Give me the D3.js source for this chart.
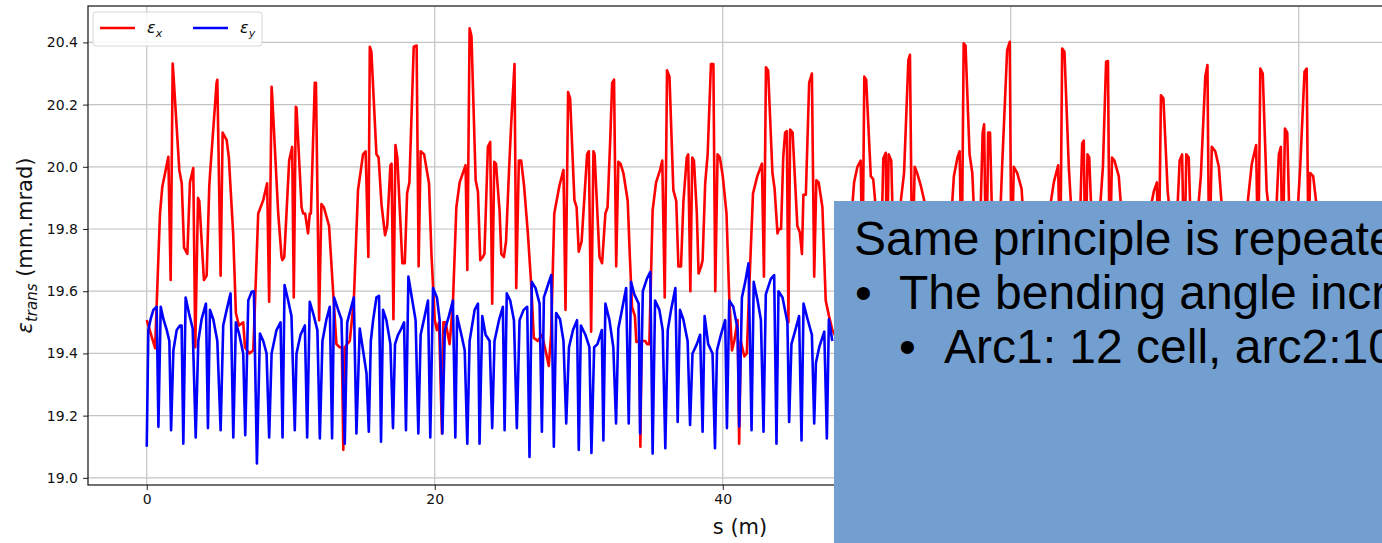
<!DOCTYPE html>
<html>
<head>
<meta charset="utf-8">
<script src="https://cdn.jsdelivr.net/npm/d3@7/dist/d3.min.js"></script>
<style>
  body { margin: 0; background: #fff; }
  svg { display: block; }
</style>
</head>
<body>
<div id="chart"></div>
<script>
/////////////////////////////////////////////////////////////////////////////
//// Data ////////////////////////////////////////////
/////////////////////////////////////////////////////////////////////////////

// epsilon_x : position s (m) and emittance (mm.mrad)
const sX = [
  0, 0.58, 0.92, 1.08, 1.5, 1.66, 1.8, 1.85, 2.26, 2.43, 2.59, 2.82, 3.0, 3.23, 3.37, 3.56, 3.65, 3.97, 4.16, 4.34,
  4.4, 4.85, 4.9, 5.13, 5.27, 5.55, 5.7, 6.0, 6.19, 6.4, 6.7, 6.82, 7.12, 7.4, 7.74, 8.09, 8.36, 8.5, 8.67, 8.72,
  9.13, 9.36, 9.42, 9.55, 9.89, 10.1, 10.21, 10.35, 10.4, 10.75, 10.86, 11.0, 11.2, 11.32, 11.4, 11.67, 11.75, 11.97, 12.13, 12.3,
  12.66, 12.94, 13.17, 13.4, 13.55, 13.65, 13.75, 14.1, 14.38, 14.67, 15.02, 15.2, 15.39, 15.49, 15.6, 15.95, 16.1, 16.3, 16.55, 16.7,
  16.92, 17.0, 17.13, 17.27, 17.4, 17.75, 17.92, 18.08, 18.24, 18.54, 18.74, 18.88, 19.02, 19.26, 19.6, 19.77, 20.0, 20.15, 20.3, 20.5,
  20.6, 20.75, 21.03, 21.26, 21.5, 21.73, 22.14, 22.26, 22.42, 22.55, 22.84, 23.0, 23.16, 23.34, 23.45, 23.69, 23.85, 23.99, 24.13, 24.25,
  24.5, 24.62, 24.8, 24.95, 25.15, 25.3, 25.54, 25.66, 25.84, 26.0, 26.2, 26.46, 26.7, 26.88, 27.15, 27.45, 27.74, 27.92, 28.08, 28.3,
  28.66, 28.94, 29.08, 29.26, 29.4, 29.7, 29.85, 30.0, 30.2, 30.58, 30.7, 30.86, 31.02, 31.1, 31.44, 31.62, 31.85, 32.0, 32.18, 32.32,
  32.45, 32.6, 32.75, 32.9, 33.1, 33.4, 33.55, 33.7, 33.9, 34.0, 34.2, 34.28, 34.36, 34.62, 34.75, 34.9, 35.13, 35.37, 35.65, 35.8,
  35.97, 36.13, 36.3, 36.57, 36.77, 36.92, 37.1, 37.27, 37.5, 37.6, 37.75, 37.88, 38.0, 38.2, 38.32, 38.5, 38.6, 38.78, 38.95, 39.18,
  39.35, 39.48, 39.64, 39.8, 40.0, 40.26, 40.45, 40.64, 40.8, 41.03, 41.14, 41.25, 41.5, 41.67, 41.83, 42.1, 42.4, 42.72, 42.86, 43.0,
  43.15, 43.45, 43.6, 43.8, 43.9, 44.05, 44.2, 44.33, 44.45, 44.56, 44.68, 44.85, 45.18, 45.35, 45.5, 45.6, 45.77, 46.0, 46.19, 46.35,
  46.5, 46.66, 46.92, 47.15, 47.38, 47.61, 48.0, 48.5, 48.96, 49.12, 49.35, 49.58, 49.7, 49.83, 49.96, 50.28, 50.45, 50.6, 50.8, 51.0,
  51.15, 51.32, 51.4, 51.52, 51.7, 51.85, 52.1, 52.36, 52.59, 52.89, 53.0, 53.16, 53.33, 53.5, 53.75, 54.2, 54.5, 55.0, 55.5, 55.82,
  56.05, 56.3, 56.45, 56.59, 56.73, 56.86, 57.14, 57.33, 57.5, 57.7, 57.9, 58.05, 58.15, 58.3, 58.43, 58.56, 58.72, 59.0, 59.3, 59.4,
  59.75, 59.93, 60.05, 60.21, 60.45, 60.75, 60.86, 61.3, 61.8, 62.3, 62.76, 62.99, 63.29, 63.43, 63.57, 63.73, 64.03, 64.22, 64.5, 64.84,
  64.96, 65.07, 65.19, 65.33, 65.45, 65.64, 65.9, 66.22, 66.4, 66.62, 66.75, 66.87, 67.03, 67.2, 67.5, 67.66, 68.0, 68.6, 69.2, 69.76,
  69.93, 70.15, 70.27, 70.43, 70.6, 70.9, 71.03, 71.3, 71.59, 71.73, 71.9, 72.05, 72.19, 72.36, 72.5, 72.8, 73.04, 73.2, 73.51, 73.66,
  73.78, 73.96, 74.2, 74.45, 74.66, 75.0, 75.6, 76.1, 76.44, 76.74, 77.04, 77.18, 77.33, 77.5, 77.77, 77.93, 78.2, 78.46, 78.62, 78.76,
  78.87, 79.04, 79.2, 79.37, 79.7, 79.95, 80.1, 80.4, 80.55, 80.68, 80.79, 81.0, 81.25, 81.6
];
const epsX = [
  19.507, 19.417, 19.85, 19.936, 20.032, 19.636, 20.332, 20.3, 19.99, 19.947, 19.74, 19.72, 19.95, 19.996, 19.42, 19.9, 19.89, 19.636, 19.65, 19.936,
  19.98, 20.27, 20.28, 19.65, 20.11, 20.086, 20.03, 19.786, 19.53, 19.49, 19.5, 19.42, 19.4, 19.41, 19.85, 19.893, 19.947, 19.566, 20.257, 20.22,
  19.85, 19.71, 19.7, 19.71, 20.02, 20.064, 19.58, 20.193, 20.19, 19.87, 19.85, 19.85, 19.786, 19.85, 19.85, 20.27, 20.27, 19.507, 19.88, 19.87,
  19.81, 19.6, 19.43, 19.42, 19.42, 19.09, 19.42, 19.44, 19.57, 19.925, 20.04, 20.05, 19.71, 20.386, 20.37, 20.04, 20.03, 19.88, 19.78, 19.81,
  20.005, 20.01, 19.51, 20.07, 20.03, 19.69, 19.69, 19.915, 19.95, 20.386, 20.39, 19.68, 20.05, 20.04, 19.947, 19.72, 19.507, 19.475, 19.5, 19.143,
  19.5, 19.5, 19.43, 19.56, 19.87, 19.95, 20.005, 19.668, 20.445, 20.42, 19.957, 19.92, 19.7, 19.71, 19.72, 20.064, 20.08, 19.56, 20.016, 20.01,
  19.86, 19.72, 19.71, 19.76, 19.98, 20.13, 20.33, 19.61, 20.02, 20.02, 19.94, 19.79, 19.62, 19.45, 19.44, 19.46, 19.4, 19.36, 19.46, 19.85,
  19.94, 19.99, 19.54, 20.24, 20.22, 19.893, 19.87, 19.727, 19.76, 20.04, 20.05, 19.47, 20.05, 20.04, 19.71, 19.69, 19.85, 19.87, 20.08, 20.27,
  20.28, 19.68, 20.016, 20.01, 19.98, 19.89, 19.71, 19.55, 19.52, 19.437, 19.44, 19.1, 19.44, 19.44, 19.43, 19.43, 19.86, 19.95, 19.99, 20.02,
  19.58, 20.31, 20.29, 19.925, 19.89, 19.68, 19.68, 19.89, 20.03, 20.04, 19.6, 20.03, 20.02, 19.85, 19.657, 19.68, 19.7, 19.947, 20.04, 20.33,
  20.33, 19.6, 20.04, 20.03, 19.97, 19.85, 19.58, 19.41, 19.44, 19.507, 19.11, 19.44, 19.39, 19.4, 19.6, 19.914, 19.97, 20.01, 19.647, 20.32,
  20.31, 19.98, 19.93, 19.786, 19.8, 19.8, 20.03, 20.11, 20.115, 19.5, 20.12, 20.11, 19.81, 19.79, 19.72, 19.91, 19.91, 20.27, 20.3, 19.647,
  19.957, 19.95, 19.87, 19.57, 19.52, 19.475, 19.44, 19.45, 19.85, 19.95, 20.0, 20.02, 19.65, 20.29, 20.28, 19.97, 19.96, 19.88, 19.7, 19.72,
  20.027, 20.045, 19.65, 20.04, 20.02, 19.75, 19.72, 19.888, 19.98, 20.343, 20.36, 19.65, 20.0, 19.98, 19.94, 19.85, 19.55, 19.44, 19.45, 19.8,
  19.97, 20.03, 20.05, 19.65, 20.397, 20.39, 20.04, 19.98, 19.8, 19.7, 19.85, 20.11, 20.137, 19.6, 20.11, 20.11, 19.8, 19.72, 19.88, 20.0,
  20.375, 20.402, 19.65, 20.0, 19.98, 19.93, 19.85, 19.5, 19.44, 19.45, 19.88, 19.95, 20.005, 19.65, 20.38, 20.37, 20.0, 19.85, 19.72, 19.88,
  20.075, 20.084, 19.65, 20.04, 20.03, 19.8, 19.72, 19.88, 20.0, 20.338, 20.34, 19.65, 20.03, 20.02, 19.97, 19.87, 19.55, 19.44, 19.45, 19.88,
  19.92, 19.95, 19.65, 20.23, 20.22, 19.92, 19.86, 19.72, 19.88, 20.02, 20.04, 19.65, 20.04, 20.03, 19.8, 19.72, 19.88, 19.97, 20.29, 20.327,
  19.65, 20.064, 20.05, 20.0, 19.87, 19.55, 19.44, 19.46, 19.88, 20.01, 20.07, 19.65, 20.316, 20.3, 19.925, 19.86, 19.72, 19.88, 20.04, 20.064,
  19.65, 20.123, 20.11, 19.8, 19.72, 19.88, 20.0, 20.306, 20.316, 19.7, 19.98, 19.97, 19.87, 19.6
];

// epsilon_y : only the part left of the slide text box could be read
const sY = [
  0, 0.11, 0.27, 0.46, 0.69, 0.81, 0.97, 1.16, 1.39, 1.57, 1.69, 1.85, 2.08, 2.31, 2.42, 2.54, 2.7, 2.93, 3.19, 3.4,
  3.58, 3.81, 4.11, 4.25, 4.39, 4.62, 4.9, 5.13, 5.31, 5.55, 5.82, 6.01, 6.19, 6.43, 6.7, 6.84, 7.05, 7.28, 7.44, 7.65,
  7.86, 8.09, 8.32, 8.5, 8.67, 9.01, 9.29, 9.43, 9.57, 9.82, 10.05, 10.28, 10.4, 10.68, 10.98, 11.14, 11.32, 11.55, 11.85, 12.02,
  12.2, 12.48, 12.71, 12.87, 13.01, 13.29, 13.52, 13.75, 13.92, 14.15, 14.38, 14.56, 14.79, 15.02, 15.26, 15.42, 15.56, 15.72, 15.95, 16.13,
  16.27, 16.41, 16.64, 16.92, 17.1, 17.24, 17.45, 17.68, 17.87, 18.0, 18.17, 18.37, 18.67, 18.86, 19.02, 19.3, 19.53, 19.69, 19.88, 20.15,
  20.34, 20.53, 20.7, 20.98, 21.26, 21.43, 21.55, 21.85, 22.08, 22.26, 22.42, 22.77, 23.0, 23.11, 23.3, 23.53, 23.81, 23.99, 24.15, 24.46,
  24.73, 24.85, 25.0, 25.24, 25.5, 25.7, 25.89, 26.17, 26.42, 26.58, 26.74, 27.0, 27.28, 27.44, 27.58, 27.86, 28.09, 28.27, 28.43, 28.7,
  28.94, 29.13, 29.32, 29.6, 29.88, 30.0, 30.15, 30.46, 30.74, 30.88, 31.07, 31.3, 31.6, 31.71, 31.85, 32.13, 32.4, 32.59, 32.75, 33.0,
  33.29, 33.47, 33.63, 33.86, 34.16, 34.26, 34.45, 34.73, 34.97, 35.13, 35.3, 35.6, 35.83, 36.01, 36.18, 36.41, 36.71, 36.87, 37.03, 37.26,
  37.56, 37.73, 37.9, 38.2, 38.43, 38.6, 38.74, 38.99, 39.29, 39.46, 39.6, 39.87, 40.17, 40.29, 40.45, 40.73, 41.03, 41.14, 41.33, 41.56,
  41.79, 42.0, 42.15, 42.42, 42.65, 42.83, 42.99, 43.34, 43.57, 43.73, 43.87, 44.15, 44.49, 44.61, 44.77, 45.07, 45.3, 45.47, 45.61, 45.89,
  46.19, 46.35, 46.47, 46.7, 47.05, 47.23, 47.37, 47.61
];
const epsY = [
  19.1, 19.475, 19.51, 19.54, 19.55, 19.164, 19.55, 19.51, 19.475, 19.44, 19.153, 19.41, 19.475, 19.49, 19.49, 19.11, 19.58, 19.53, 19.48, 19.13,
  19.44, 19.51, 19.56, 19.16, 19.54, 19.51, 19.44, 19.153, 19.49, 19.54, 19.593, 19.13, 19.5, 19.46, 19.4, 19.137, 19.57, 19.598, 19.6, 19.046,
  19.464, 19.44, 19.4, 19.13, 19.4, 19.475, 19.5, 19.13, 19.62, 19.57, 19.52, 19.153, 19.4, 19.46, 19.49, 19.13, 19.566, 19.53, 19.475, 19.127,
  19.44, 19.51, 19.55, 19.127, 19.58, 19.54, 19.51, 19.11, 19.5, 19.54, 19.58, 19.143, 19.48, 19.41, 19.336, 19.148, 19.44, 19.507, 19.58, 19.585,
  19.116, 19.54, 19.507, 19.43, 19.16, 19.43, 19.46, 19.48, 19.5, 19.153, 19.647, 19.59, 19.507, 19.143, 19.46, 19.52, 19.57, 19.13, 19.61, 19.58,
  19.507, 19.143, 19.475, 19.52, 19.57, 19.13, 19.52, 19.46, 19.41, 19.11, 19.44, 19.54, 19.56, 19.11, 19.52, 19.46, 19.44, 19.16, 19.44, 19.507,
  19.55, 19.153, 19.593, 19.57, 19.507, 19.16, 19.507, 19.54, 19.55, 19.067, 19.63, 19.61, 19.56, 19.148, 19.58, 19.62, 19.652, 19.1, 19.53, 19.51,
  19.44, 19.175, 19.42, 19.475, 19.507, 19.09, 19.49, 19.46, 19.42, 19.08, 19.42, 19.43, 19.475, 19.12, 19.56, 19.507, 19.42, 19.175, 19.48, 19.54,
  19.61, 19.175, 19.63, 19.59, 19.56, 19.143, 19.6, 19.64, 19.662, 19.078, 19.57, 19.54, 19.475, 19.095, 19.475, 19.54, 19.61, 19.18, 19.54, 19.51,
  19.44, 19.17, 19.4, 19.43, 19.46, 19.148, 19.52, 19.43, 19.4, 19.095, 19.41, 19.46, 19.507, 19.16, 19.57, 19.55, 19.48, 19.165, 19.58, 19.63,
  19.69, 19.153, 19.63, 19.57, 19.507, 19.148, 19.59, 19.64, 19.652, 19.11, 19.6, 19.58, 19.5, 19.18, 19.43, 19.48, 19.52, 19.12, 19.56, 19.51,
  19.46, 19.175, 19.37, 19.42, 19.47, 19.127, 19.51, 19.44
];

const xTicks = [0, 20, 40, 60, 80];
const yTicks = [19.0, 19.2, 19.4, 19.6, 19.8, 20.0, 20.2, 20.4];

const boxLines = [
  { text: "Same principle is repeated", bullet: "", level: 0 },
  { text: "The bending angle increases", bullet: "•", level: 1 },
  { text: "Arc1: 12 cell, arc2:10 cell", bullet: "•", level: 2 }
];

/////////////////////////////////////////////////////////////////////////////
//// Set up /////////////////////////////////////////////////////////////////
/////////////////////////////////////////////////////////////////////////////
const width = 1382,
      height = 543;

const plot = { left: 88, right: 1383, top: 6, bottom: 485 };

const x = d3.scaleLinear()
    .domain([-4.08, 85.85])
    .range([plot.left, plot.right]);

const y = d3.scaleLinear()
    .domain([18.977, 20.517])
    .range([plot.bottom, plot.top]);

const svg = d3.select("#chart")
  .append("svg")
    .attr("width", width)
    .attr("height", height)
    .style("font-family", "'DejaVu Sans', sans-serif");

svg.append("defs").append("clipPath")
    .attr("id", "plot-clip")
  .append("rect")
    .attr("x", plot.left)
    .attr("y", plot.top)
    .attr("width", plot.right - plot.left)
    .attr("height", plot.bottom - plot.top);

/////////////////////////////////////////////////////////////////////////////
// Grid
const grid = svg.append("g")
    .attr("stroke", "#c4c4c4")
    .attr("stroke-width", 1.2);

grid.selectAll(".gx")
  .data(xTicks)
  .enter()
  .append("line")
    .attr("x1", d => x(d))
    .attr("x2", d => x(d))
    .attr("y1", plot.top)
    .attr("y2", plot.bottom);

grid.selectAll(".gy")
  .data(yTicks)
  .enter()
  .append("line")
    .attr("x1", plot.left)
    .attr("x2", plot.right)
    .attr("y1", d => y(d))
    .attr("y2", d => y(d));

/////////////////////////////////////////////////////////////////////////////
// Axes
const xAxis = svg.append("g")
    .attr("transform", `translate(0, ${plot.bottom})`)
    .call(d3.axisBottom(x).tickValues(xTicks).tickFormat(d3.format("d")).tickSize(5).tickPadding(4));

const yAxis = svg.append("g")
    .attr("transform", `translate(${plot.left}, 0)`)
    .call(d3.axisLeft(y).tickValues(yTicks).tickFormat(d3.format(".1f")).tickSize(5).tickPadding(5));

[xAxis, yAxis].forEach(a => {
  a.select(".domain").remove();
  a.selectAll("text")
      .attr("fill", "#111")
      .style("font-size", "14px")
      .style("font-family", "'DejaVu Sans', sans-serif");
  a.selectAll("line").attr("stroke", "#222");
});

// Frame
svg.append("rect")
    .attr("x", plot.left)
    .attr("y", plot.top)
    .attr("width", plot.right - plot.left)
    .attr("height", plot.bottom - plot.top)
    .attr("fill", "none")
    .attr("stroke", "#111")
    .attr("stroke-width", 1.2);

/////////////////////////////////////////////////////////////////////////////
// Lines
const line = d3.line()
    .x(d => x(d[0]))
    .y(d => y(d[1]));

const lines = svg.append("g")
    .attr("clip-path", "url(#plot-clip)")
    .attr("fill", "none")
    .attr("stroke-width", 2.6)
    .attr("stroke-linejoin", "round");

lines.append("path")
    .datum(d3.zip(sX, epsX))
    .attr("stroke", "#ff0000")
    .attr("d", line);

lines.append("path")
    .datum(d3.zip(sY, epsY))
    .attr("stroke", "#0000ff")
    .attr("d", line);

/////////////////////////////////////////////////////////////////////////////
// Axis labels
svg.append("text")
    .attr("x", 740)
    .attr("y", 534)
    .attr("text-anchor", "middle")
    .style("font-size", "21px")
    .attr("fill", "#111")
    .text("s (m)");

const yLabel = svg.append("text")
    .attr("transform", `translate(32, ${(plot.top + plot.bottom) / 2}) rotate(-90)`)
    .attr("text-anchor", "middle")
    .style("font-size", "21px")
    .attr("fill", "#111");
yLabel.append("tspan").style("font-style", "italic").text("ε");
yLabel.append("tspan").style("font-style", "italic").style("font-size", "15px")
    .attr("dy", 5).text("trans");
yLabel.append("tspan").attr("dy", -5).text(" (mm.mrad)");

/////////////////////////////////////////////////////////////////////////////
// Legend
const legend = svg.append("g");

legend.append("rect")
    .attr("x", 93)
    .attr("y", 12)
    .attr("width", 169)
    .attr("height", 34)
    .attr("rx", 3)
    .attr("fill", "#fff")
    .attr("fill-opacity", 0.85)
    .attr("stroke", "#d6d6d6");

const legendItems = [
  { color: "#ff0000", sub: "x", x0: 100 },
  { color: "#0000ff", sub: "y", x0: 193 }
];

const item = legend.selectAll(".item")
  .data(legendItems)
  .enter()
  .append("g");

item.append("line")
    .attr("x1", d => d.x0)
    .attr("x2", d => d.x0 + 35)
    .attr("y1", 28)
    .attr("y2", 28)
    .attr("stroke", d => d.color)
    .attr("stroke-width", 2.6);

const legendText = item.append("text")
    .attr("x", d => d.x0 + 47)
    .attr("y", 33)
    .style("font-size", "16px")
    .style("font-style", "italic")
    .attr("fill", "#111");
legendText.append("tspan").text("ε");
legendText.append("tspan").attr("dy", 4).style("font-size", "11px").text(d => d.sub);

/////////////////////////////////////////////////////////////////////////////
// Slide text box drawn over the chart (its right side runs past the picture)
const box = svg.append("g");

box.append("rect")
    .attr("x", 834)
    .attr("y", 201)
    .attr("width", width - 834)
    .attr("height", height - 201)
    .attr("fill", "#729fcf");

const boxText = box.selectAll(".line")
  .data(boxLines)
  .enter()
  .append("g")
    .style("font-family", "'Liberation Sans', Arial, sans-serif")
    .style("font-size", "48px")
    .attr("fill", "#000");

boxText.append("text")
    .attr("x", d => d.level === 2 ? 899 : 855)
    .attr("y", (d, i) => 255 + i * 54)
    .text(d => d.bullet);

boxText.append("text")
    .attr("x", d => [854, 899, 944][d.level])
    .attr("y", (d, i) => 255 + i * 54)
    .text(d => d.text);
</script>
</body>
</html>
